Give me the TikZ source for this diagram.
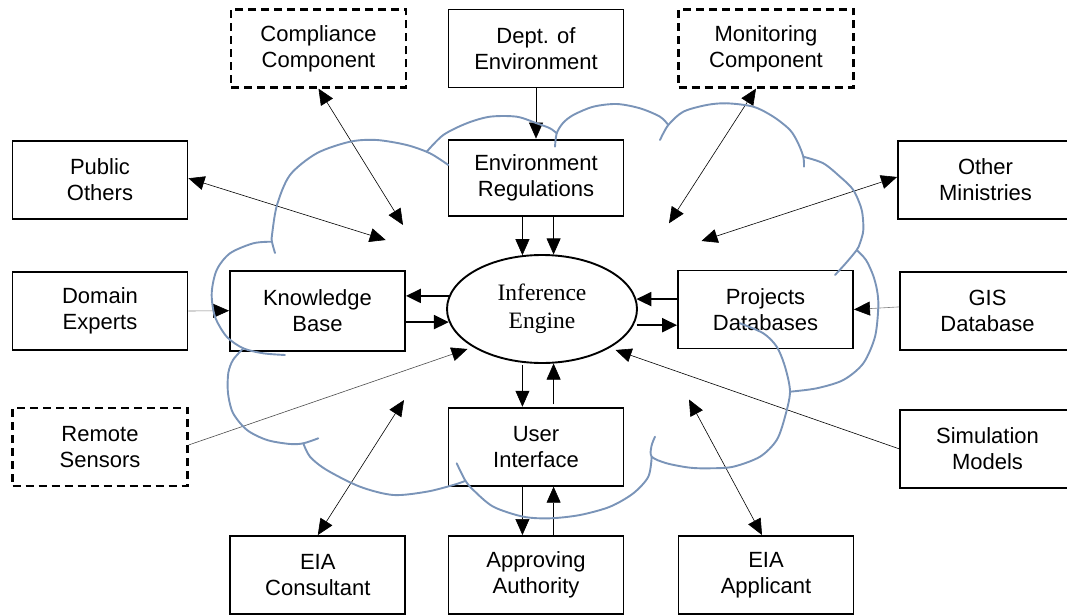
\documentclass[tikz,border=0pt]{standalone}
\usepackage{fontspec}
\setmainfont{Liberation Sans}
\newfontfamily\timesfont{Liberation Serif}
\usetikzlibrary{arrows.meta,shapes.geometric}
\definecolor{cloudc}{RGB}{122,148,184}
\begin{document}
\begin{tikzpicture}[x=1pt,y=-1pt,
  box/.style={draw, line width=1.9pt, minimum width=175pt, minimum height=78pt, inner sep=0pt, align=center, font=\fontsize{22}{26}\selectfont},
  dbox/.style={box, line width=2.2pt, dash pattern=on 8pt off 5pt},
  arr/.style={-{Triangle[length=16pt,width=14pt,color=black]}, line width=0.6pt},
  darr/.style={{Triangle[length=16pt,width=14pt]}-{Triangle[length=16pt,width=14pt]}, line width=0.6pt},
  garr/.style={arr, draw=black!50},
  tarr/.style={-{Triangle[length=15pt,width=14pt]}, line width=2.2pt},
  cloudline/.style={draw=cloudc, line width=1.9pt, line cap=round, line join=round}]
\useasboundingbox (0,0) rectangle (1067,615);

% boxes
\node[dbox] (comp) at (318.5,48.5) {Compliance\\Component};
\node[box]  (dept) at (536,48.5) {Dept. of\\Environment};
\node[dbox] (mon)  at (766,48.5) {Monitoring\\Component};
\node[box]  (pub)  at (100,180) {Public\\Others};
\node[box, minimum height=76.5pt] (er) at (536,177.8) {Environment\\Regulations};
\node[box]  (om)   at (985.5,180) {Other\\Ministries};
\node[box]  (de)   at (100,311) {Domain\\Experts};
\node[box, minimum height=80pt] (kb) at (317.5,310.7) {Knowledge\\Base};
\node[ellipse, draw, line width=1.9pt, minimum width=190pt, minimum height=108pt, inner sep=0pt, align=center,
      font=\timesfont\fontsize{23.5}{28}\selectfont] (ie) at (542,309) {Inference\\Engine};
\node[box]  (pdb)  at (765.5,309.5) {Projects\\Databases};
\node[box]  (gis)  at (987.5,311.4) {GIS\\Database};
\node[dbox] (rs)   at (100,447) {Remote\\Sensors};
\node[box]  (ui)   at (536,446.7) {User\\Interface};
\node[box]  (sim)  at (987.5,448.8) {Simulation\\Models};
\node[box]  (eiac) at (317.8,575) {EIA\\Consultant};
\node[box]  (aa)   at (536,575) {Approving\\Authority};
\node[box]  (eiap) at (766,575) {EIA\\Applicant};

% free ends inside the cloud
\coordinate (pcomp) at (403,225);
\coordinate (ppub)  at (385.7,240);
\coordinate (pmon)  at (669,223.3);
\coordinate (pom)   at (701.5,241);
\coordinate (prs)   at (467.5,349);
\coordinate (psim)  at (615.5,350);
\coordinate (peiac) at (404,400);
\coordinate (peiap) at (689,399.5);

% connectors
\draw[arr] (dept.south) -- (er.north);
\draw[arr] (er.south -| ie.110) -- (ie.110);
\draw[arr] (er.south -| ie.78.8) -- (ie.78.8);
\draw[tarr] (ie.172.4) -- (ie.172.4 -| kb.east);
\draw[tarr] (kb.east |- ie.188.5) -- (ie.188.5);
\draw[tarr] (pdb.west |- ie.6.5) -- (ie.6.5);
\draw[tarr] ([xshift=3pt]ie.-10) -- (ie.-10 -| pdb.west);
\draw[arr] ([yshift=-2pt]ie.-110) -- (ie.-110 |- ui.north);
\draw[arr] ([yshift=2.5pt]ie.-78.7 |- ui.north) -- (ie.-78.7);
\draw[arr] (ui.south -| ie.-110) -- (aa.north -| ie.-110);
\draw[arr] (aa.north -| ie.-78.7) -- (ui.south -| ie.-78.7);
\draw[garr] (de.east) -- (kb.west);
\draw[garr] ([yshift=4.5pt]gis.west) -- (pdb.east);
\draw[darr] (comp.south) -- (pcomp);
\draw[darr] ([yshift=1.7pt]pub.east) -- (ppub);
\draw[darr] ([xshift=-10pt]mon.south) -- (pmon);
\draw[darr] ([yshift=3pt]om.west) -- (pom);
\draw[arr, draw=black!70] ([yshift=2pt]rs.east) -- (prs);
\draw[arr] (sim.west) -- (psim);
\draw[darr] (eiac.north) -- (peiac);
\draw[darr] ([xshift=-4pt]eiap.north) -- (peiap);

% cloud outline
\draw[cloudline] plot[smooth] coordinates {(275,253) (272,242) (272,235) (277,205) (290,175) (316.7,153.3) (350,141.7) (376.7,140) (406.7,145) (430,153.3) (448.3,165)};
\draw[cloudline] plot[smooth] coordinates {(426.7,151.7) (443.3,135) (466.7,123.3) (490,116.7) (516.7,116.7) (536.7,123.3) (550,128.3) (556.7,133.3)};
\draw[cloudline] plot[smooth] coordinates {(555,146.7) (556.7,133.3) (563,123) (573.3,115) (593.3,106.7) (616.7,104) (640,108.3) (660,116.7) (668.3,125)};
\draw[cloudline] plot[smooth] coordinates {(660,140) (668.3,125) (683.3,111.7) (706.7,105) (726.7,103.3) (753.3,106.7) (773.3,116.7) (790,130) (798,143) (803.3,156.7) (804,166.7)};
\draw[cloudline] plot[smooth] coordinates {(803.3,156.7) (823.3,163.3) (840,176.7) (853.3,190) (861.7,210) (863.3,230) (860,243) (856.7,250) (846,263) (835,275)};
\draw[cloudline] plot[smooth] coordinates {(856.7,250) (866,260) (873,275) (877,290) (878.3,306.7) (875,336.7) (863.3,363.3) (843.3,380) (816.7,388.3) (790,391.7)};
\draw[cloudline] plot[smooth] coordinates {(740,323.3) (763.3,333.3) (776.7,346.7) (785,366.7) (790,391.7) (785,416.7) (776.7,440) (760,456.7) (733.3,466.7) (710,468.3) (690,467.7) (666.7,463.3) (651.7,456.7) (651.5,446) (655,436.7)};
\draw[cloudline] plot[smooth] coordinates {(651.7,456.7) (648.3,476.7) (633.3,493.3) (610,506.7) (580,515) (550,518.3) (523.3,516.7) (493.3,506.7) (473.3,490) (465,480) (456.7,463.3)};
\draw[cloudline] plot[smooth] coordinates {(303.3,443.3) (310,456.7) (326.7,470) (360,486.7) (393.3,495) (426.7,491.7) (453.3,485) (465,481)};
\draw[cloudline] plot[smooth] coordinates {(243.3,348.3) (233,360) (228.3,373) (228,393) (233,413) (247,430) (267,440) (290,444) (303.3,443.3) (318.3,438.3)};
\draw[cloudline] plot[smooth] coordinates {(271.7,241.7) (253.3,243.3) (230,253.3) (216.7,270) (211.7,293.3) (215,316.7) (226.7,336.7) (243.3,348.3) (263.3,353.3) (285,355)};
\end{tikzpicture}
\end{document}
